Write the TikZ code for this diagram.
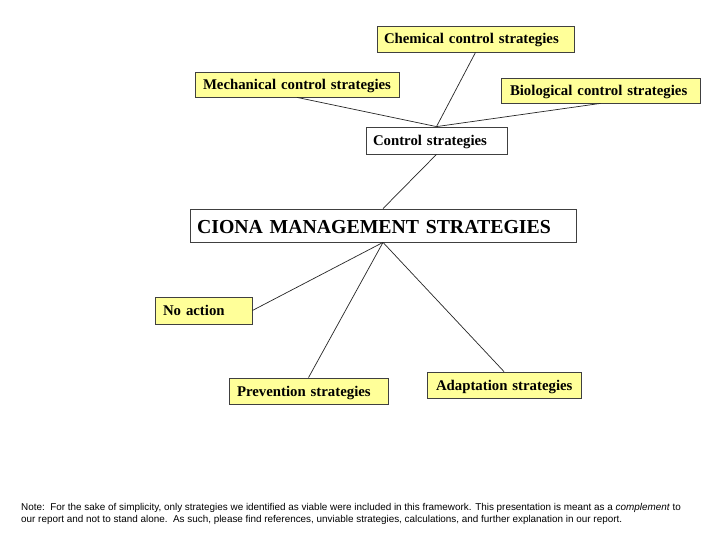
\documentclass[tikz,border=0pt]{standalone}
\usepackage{fontspec}
\setmainfont{Liberation Serif}
\newfontfamily\notefont{Liberation Sans}
\definecolor{boxyellow}{HTML}{FFFF99}
\definecolor{boxline}{HTML}{404040}
\tikzset{
  basebox/.style={draw=boxline, line width=0.8pt, rectangle, inner ysep=0pt, align=left,
    text height=13pt, text depth=3pt,
    font=\fontsize{14.8}{16}\selectfont\bfseries},
  ybox/.style={basebox, fill=boxyellow},
  wbox/.style={basebox, fill=white},
  bx/.style n args={3}{minimum width=#1pt, minimum height=#2pt, inner xsep=#3pt, text width=#1pt-2*#3pt},
  link/.style={draw=black!85, line width=0.7pt},
}
\begin{document}
\begin{tikzpicture}[x=1pt,y=-1pt]
\useasboundingbox (0,0) rectangle (720,540);
\fill[white] (0,0) rectangle (720,540);

\node[ybox, bx={197}{26}{7}] (chem) at (475.5,39) {\mbox{Chemical control strategies}};
\node[ybox, bx={204}{25}{8}] (mech) at (297,84.5) {\mbox{Mechanical control strategies}};
\node[ybox, bx={199}{25}{9}] (bio) at (600.5,90.5) {\mbox{Biological control strategies}};
\node[wbox, bx={141}{27}{7}] (ctrl) at (436.5,140.5) {\mbox{Control strategies}};
\node[wbox, bx={386}{33}{7}, text height=15.2pt, text depth=0pt, font=\fontsize{19.8}{22}\selectfont\bfseries] (ciona) at (383,225.5) {\mbox{CIONA MANAGEMENT STRATEGIES}};
\node[ybox, bx={97}{27}{8}] (noact) at (203.5,310.5) {\mbox{No action}};
\node[ybox, bx={159}{26}{8}] (prev) at (308.5,391) {\mbox{Prevention strategies}};
\node[ybox, bx={154}{26}{9}] (adapt) at (504,385) {\mbox{Adaptation strategies}};

\draw[link] (chem.south) -- (ctrl.north);
\draw[link] (mech.south) -- (ctrl.north);
\draw[link] (bio.south) -- (ctrl.north);
\draw[link] (ctrl.south) -- (ciona.north);
\draw[link] (ciona.south) -- (noact.east);
\draw[link] (ciona.south) -- (prev.north);
\draw[link] (ciona.south) -- (adapt.north);

\node[anchor=north west, inner sep=0pt, align=left, font=\notefont\fontsize{9.9}{12}\selectfont] (note) at (21,503.5)
{Note:\ \ For the sake of simplicity, only strategies we identified as viable were included in this framework. This presentation is meant as a \textit{complement} to\\
our report and not to stand alone.\ \ As such, please find references, unviable strategies, calculations, and further explanation in our report.};
\end{tikzpicture}
\end{document}
